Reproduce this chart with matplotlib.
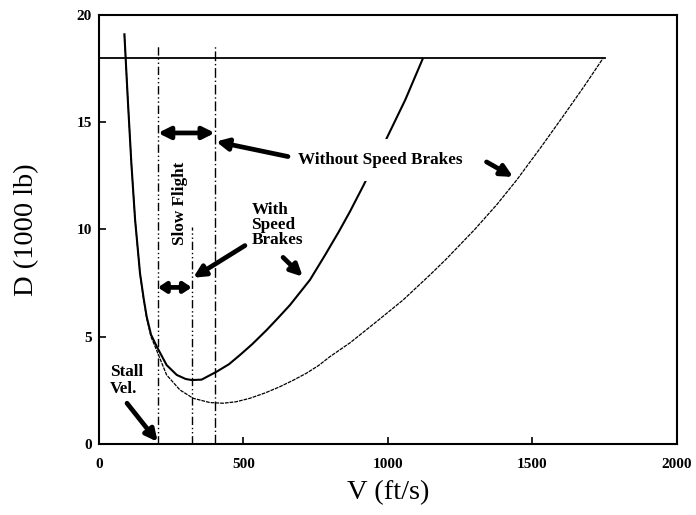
import numpy as np
import matplotlib
matplotlib.use('Agg')
import matplotlib.pyplot as plt

# drag curves: V in ft/s, D in 1000 lb
v_brakes = [88, 100, 112, 125, 142, 155, 165, 180, 200, 234, 269, 300, 321, 355, 407, 450,
            488, 530, 580, 620, 661, 730, 782, 830, 869, 915, 990, 1060, 1120]
d_brakes = [19.1, 16.0, 13.1, 10.45, 7.96, 6.75, 5.94, 5.1, 4.54, 3.68, 3.22, 3.03, 2.98, 3.0, 3.37, 3.72,
            4.15, 4.65, 5.31, 5.88, 6.48, 7.65, 8.8, 9.9, 10.85, 12.05, 14.1, 16.05, 17.95]

v_clean = [88, 100, 112, 125, 142, 155, 165, 180, 200, 234, 280, 326, 384, 430, 475, 522, 575, 626,
           672, 718, 760, 799, 869, 960, 1052, 1145, 1200, 1300, 1376, 1445, 1530, 1607, 1680, 1745]
d_clean = [19.1, 16.0, 13.1, 10.45, 7.92, 6.7, 5.87, 5.0, 4.35, 3.22, 2.52, 2.13, 1.93, 1.90, 1.97, 2.13, 2.38, 2.67,
           2.97, 3.3, 3.66, 4.07, 4.72, 5.7, 6.71, 7.88, 8.6, 10.0, 11.15, 12.3, 13.85, 15.3, 16.7, 18.0]

thrust_v = [0, 1750]
thrust_d = [18, 18]

v_stall = 204
v_min_brakes = 321
v_min_clean = 401

xticks = [0, 500, 1000, 1500, 2000]
yticks = [0, 5, 10, 15, 20]

plt.rcParams['font.family'] = ['Liberation Serif', 'DejaVu Serif']

fig = plt.figure(figsize=(6.96, 5.15), dpi=100)
ax = fig.add_axes([0.1422, 0.1379, 0.8305, 0.833])

ax.plot(thrust_v, thrust_d, color='black', lw=1.3)
ax.plot(v_brakes, d_brakes, color='black', lw=1.5)
ax.plot(v_clean, d_clean, color='black', lw=0.9, linestyle=(0, (3, 0.8)))

ax.plot([v_stall, v_stall], [0, 18.6], color='black', lw=1.0, linestyle=(0, (6, 2, 1, 2, 1, 2)))
ax.plot([v_min_brakes, v_min_brakes], [0, 10.1], color='black', lw=1.0, linestyle=(0, (6, 2, 1, 2, 1, 2)))
ax.plot([v_min_clean, v_min_clean], [0, 18.6], color='black', lw=1.0, linestyle=(0, (7, 2, 1, 2)))

ax.set_xlim(0, 2000)
ax.set_ylim(0, 20)
ax.set_xticks(xticks)
ax.set_yticks(yticks)
ax.tick_params(direction='in', length=5, width=1.2, labelsize=11)
ax.tick_params(axis='x', pad=10)
ax.tick_params(axis='y', pad=5)
for lab in ax.get_xticklabels() + ax.get_yticklabels():
    lab.set_fontweight('bold')
for s in ax.spines.values():
    s.set_linewidth(1.5)

ax.set_xlabel('V (ft/s)', fontsize=20.5, labelpad=7)
ax.set_ylabel('D (1000 lb)', fontsize=20.5, labelpad=27)

def arrow(x0, y0, x1, y1, both=False, hl=0.7, hw=0.35):
    tip = '<|-|>' if both else '-|>'
    style = '%s,head_width=%g,head_length=%g' % (tip, hw, hl)
    ax.annotate('', xy=(x1, y1), xytext=(x0, y0), zorder=4,
                arrowprops=dict(arrowstyle=style, lw=3.4, color='black',
                                shrinkA=0, shrinkB=0))

tf = dict(fontsize=12.3, fontweight='bold', color='black')

# slow flight bands
arrow(v_stall, 14.5, v_min_clean, 14.5, both=True)
arrow(v_stall, 7.3, v_min_brakes, 7.3, both=True, hl=0.45, hw=0.3)
ax.text(280, 11.2, 'Slow Flight', rotation=90, ha='center', va='center', **tf)

ax.text(690, 13.25, 'Without Speed Brakes', ha='left', va='center', zorder=2.5,
        bbox=dict(boxstyle='square,pad=0.75', facecolor='white', edgecolor='none'), **tf)
arrow(654, 13.4, 405, 14.1)
arrow(1341, 13.15, 1433, 12.45)

ax.text(527, 10.2, 'With\nSpeed\nBrakes', ha='left', va='center', linespacing=0.9, **tf)
arrow(505, 9.25, 326, 7.75)
arrow(637, 8.7, 705, 7.8)

ax.text(38, 2.95, 'Stall\nVel.', ha='left', va='center', linespacing=1.05, **tf)
arrow(97, 1.9, 203, 0.1)

plt.savefig('out.png', dpi=100)
